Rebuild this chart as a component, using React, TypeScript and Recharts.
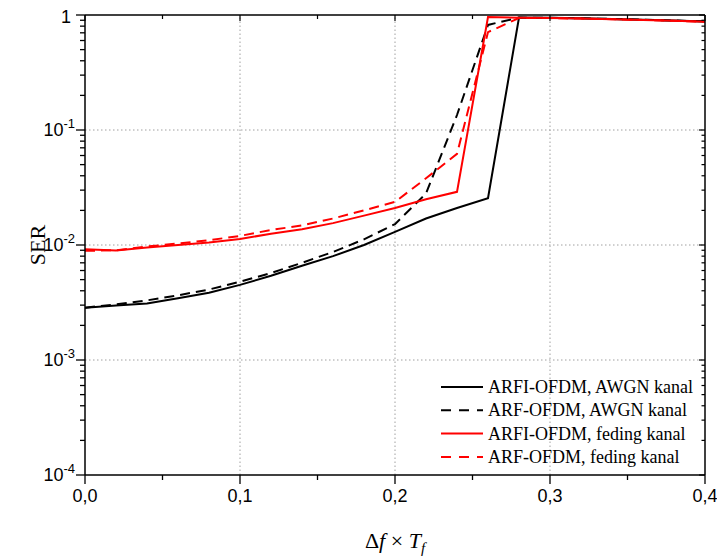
import React from "react";
import { LineChart, Line, XAxis, YAxis, ReferenceLine, Legend, Label } from "recharts";

// x values (Δf × Tf)
const xs = [0, 0.02, 0.04, 0.06, 0.08, 0.1, 0.12, 0.14, 0.16, 0.18, 0.2, 0.22, 0.24, 0.26, 0.28, 0.3, 0.32, 0.34, 0.36, 0.38, 0.4];

// SER values
const arfiAwgn = [2.85e-3, 2.98e-3, 3.1e-3, 3.45e-3, 3.85e-3, 4.5e-3, 5.4e-3, 6.6e-3, 8.0e-3, 1.0e-2, 1.3e-2, 1.7e-2, 2.1e-2, 2.55e-2, 0.95, 0.945, 0.935, 0.925, 0.91, 0.895, 0.88];
const arfAwgn = [2.85e-3, 3.05e-3, 3.3e-3, 3.65e-3, 4.1e-3, 4.8e-3, 5.7e-3, 7.0e-3, 8.7e-3, 1.12e-2, 1.52e-2, 2.8e-2, 0.135, 0.82, 0.95, 0.945, 0.935, 0.925, 0.91, 0.895, 0.88];
const arfiFeding = [9.2e-3, 8.95e-3, 9.5e-3, 1.0e-2, 1.05e-2, 1.13e-2, 1.25e-2, 1.37e-2, 1.55e-2, 1.8e-2, 2.1e-2, 2.5e-2, 2.9e-2, 0.96, 0.945, 0.94, 0.93, 0.92, 0.905, 0.89, 0.875];
const arfFeding = [8.9e-3, 9.0e-3, 9.7e-3, 1.03e-2, 1.1e-2, 1.2e-2, 1.35e-2, 1.48e-2, 1.7e-2, 2.0e-2, 2.37e-2, 3.8e-2, 6.2e-2, 0.71, 0.94, 0.94, 0.93, 0.92, 0.905, 0.89, 0.875];

const seriesNames = [
  "ARFI-OFDM, AWGN kanal",
  "ARF-OFDM, AWGN kanal",
  "ARFI-OFDM, feding kanal",
  "ARF-OFDM, feding kanal",
];

const xTicks = [0, 0.05, 0.1, 0.15, 0.2, 0.25, 0.3, 0.35, 0.4];
const xLabelTicks = [0, 0.1, 0.2, 0.3, 0.4];
const xTickLabels = ["0,0", "0,1", "0,2", "0,3", "0,4"];
const yMajorTicks = [1e-4, 1e-3, 1e-2, 1e-1, 1];
const yTickExponents = ["-4", "-3", "-2", "-1", ""];

const yTicks = yMajorTicks.flatMap((d, i) =>
  i < yMajorTicks.length - 1 ? [1, 2, 3, 4, 5, 6, 7, 8, 9].map((k) => k * d) : [d]
);

const data = xs.map((x, i) => ({
  x,
  arfiAwgn: arfiAwgn[i],
  arfAwgn: arfAwgn[i],
  arfiFeding: arfiFeding[i],
  arfFeding: arfFeding[i],
}));

const series = [
  { key: "arfiAwgn", name: seriesNames[0], color: "#000000", dash: undefined },
  { key: "arfAwgn", name: seriesNames[1], color: "#000000", dash: "10 6" },
  { key: "arfiFeding", name: seriesNames[2], color: "#ff0000", dash: undefined },
  { key: "arfFeding", name: seriesNames[3], color: "#ff0000", dash: "10 6" },
];

const SANS = "'Liberation Sans', Arial, sans-serif";
const SERIF = "'Liberation Serif', 'Times New Roman', serif";
const AXIS = { stroke: "#000", strokeWidth: 1.5 };

const LeftTick = (props: any) => {
  const { x, y, payload } = props;
  const idx = yMajorTicks.indexOf(payload.value);
  const major = idx >= 0;
  return (
    <g>
      <line x1={x} x2={x - (major ? 9 : 5)} y1={y} y2={y} stroke="#000" strokeWidth={1.3} />
      {major &&
        (yTickExponents[idx] === "" ? (
          <text x={x - 14} y={y + 2} dy="0.36em" textAnchor="end" fontFamily={SANS} fontSize={18}>
            1
          </text>
        ) : (
          <text x={x - 10} y={y} dy="0.36em" textAnchor="end" fontFamily={SANS} fontSize={18}>
            10
            <tspan dy={-8} fontSize={13}>
              {yTickExponents[idx]}
            </tspan>
          </text>
        ))}
    </g>
  );
};

const RightTick = (props: any) => {
  const { x, y, payload } = props;
  const major = yMajorTicks.indexOf(payload.value) >= 0;
  return <line x1={x} x2={x - (major ? 6 : 3.5)} y1={y} y2={y} stroke="#000" strokeWidth={1.2} />;
};

const BottomTick = (props: any) => {
  const { x, y, payload } = props;
  const idx = xLabelTicks.indexOf(payload.value);
  const major = idx >= 0;
  return (
    <g>
      <line x1={x} x2={x} y1={y} y2={y + (major ? 9 : 5)} stroke="#000" strokeWidth={1.3} />
      {major && (
        <text x={x} y={y + 27} textAnchor="middle" fontFamily={SANS} fontSize={18}>
          {xTickLabels[idx]}
        </text>
      )}
    </g>
  );
};

const TopTick = (props: any) => {
  const { x, y, payload } = props;
  const major = xLabelTicks.indexOf(payload.value) >= 0;
  return <line x1={x} x2={x} y1={y} y2={y + (major ? 6 : 4)} stroke="#000" strokeWidth={1.2} />;
};

const XTitle = (props: any) => {
  const vb = props.viewBox || { x: 77, y: 467, width: 620, height: 30 };
  const cx = vb.x + vb.width / 2;
  return (
    <text x={cx} y={vb.y + 73} textAnchor="middle" fontFamily={SERIF} fontSize={22}>
      Δ<tspan fontStyle="italic">f</tspan> × <tspan fontStyle="italic">T</tspan>
      <tspan fontStyle="italic" fontSize={15} dy={5}>
        f
      </tspan>
    </text>
  );
};

const YTitle = (props: any) => {
  const vb = props.viewBox || { x: 17, y: 7, width: 60, height: 460 };
  const px = vb.x + 20;
  const py = vb.y + vb.height / 2;
  return (
    <text
      x={px}
      y={py}
      textAnchor="middle"
      fontFamily={SERIF}
      fontSize={22}
      transform={`rotate(-90, ${px}, ${py})`}
    >
      SER
    </text>
  );
};

const renderLegend = () => (
  <svg width={280} height={100} style={{ display: "block" }}>
    {series.map((s, i) => {
      const ry = 11 + i * 23.3;
      return (
        <g key={s.key}>
          <line
            x1={8}
            x2={50}
            y1={ry}
            y2={ry}
            stroke={s.color}
            strokeWidth={2}
            strokeDasharray={s.dash ? "10 8" : undefined}
          />
          <text x={55} y={ry + 6} fontFamily={SERIF} fontSize={18} fill="#000">
            {s.name}
          </text>
        </g>
      );
    })}
  </svg>
);

export default function App() {
  return (
    <div style={{ width: 717, height: 558, position: "relative" }}>
      <style>{"html, body { overflow: hidden; margin: 0; }"}</style>
      <div style={{ position: "absolute", left: 8, top: 8 }}>
        <LineChart width={709} height={550} data={data} margin={{ top: 0, right: 0, left: 17, bottom: 53 }}>
          <XAxis
            dataKey="x"
            type="number"
            domain={[0, 0.4]}
            ticks={xTicks}
            interval={0}
            allowDataOverflow
            axisLine={AXIS}
            tickLine={false}
            tickSize={0}
            tickMargin={0}
            tick={<BottomTick />}
            height={30}
          >
            <Label content={<XTitle />} />
          </XAxis>
          <XAxis
            xAxisId="top"
            orientation="top"
            dataKey="x"
            type="number"
            domain={[0, 0.4]}
            ticks={xTicks}
            interval={0}
            allowDataOverflow
            axisLine={AXIS}
            tickLine={false}
            tickSize={0}
            tickMargin={0}
            tick={<TopTick />}
            height={7}
          />
          <YAxis
            type="number"
            scale="log"
            domain={[1e-4, 1]}
            ticks={yTicks}
            interval={0}
            allowDataOverflow
            axisLine={AXIS}
            tickLine={false}
            tickSize={0}
            tickMargin={0}
            tick={<LeftTick />}
            width={60}
          >
            <Label content={<YTitle />} />
          </YAxis>
          <YAxis
            yAxisId="right"
            orientation="right"
            type="number"
            scale="log"
            domain={[1e-4, 1]}
            ticks={yTicks}
            interval={0}
            allowDataOverflow
            axisLine={AXIS}
            tickLine={false}
            tickSize={0}
            tickMargin={0}
            tick={<RightTick />}
            width={12}
          />
          {[0.1, 0.2, 0.3].map((v) => (
            <ReferenceLine key={"gx" + v} x={v} stroke="#a0a0a0" strokeDasharray="1.5 2.5" />
          ))}
          {[1e-1, 1e-2, 1e-3].map((v) => (
            <ReferenceLine key={"gy" + v} y={v} stroke="#a0a0a0" strokeDasharray="1.5 2.5" />
          ))}
          {series.map((s) => (
            <Line
              key={s.key}
              type="linear"
              dataKey={s.key}
              name={s.name}
              stroke={s.color}
              strokeWidth={2}
              strokeDasharray={s.dash}
              dot={false}
              isAnimationActive={false}
            />
          ))}
          <Legend
            layout="vertical"
            align="center"
            verticalAlign="middle"
            content={renderLegend}
            wrapperStyle={{ left: 425, top: 368, width: 280, height: 100 }}
          />
        </LineChart>
      </div>
    </div>
  );
}
